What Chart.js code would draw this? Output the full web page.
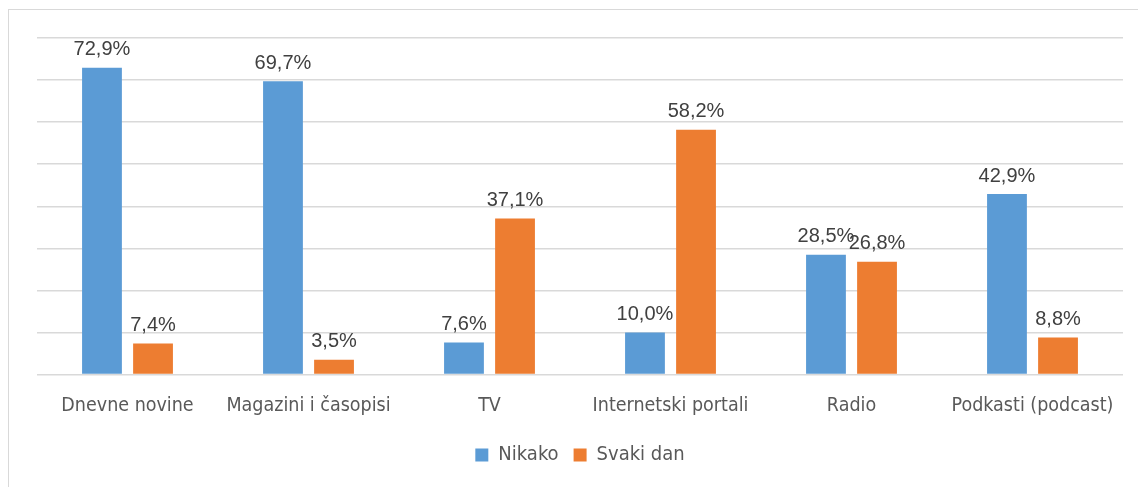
<!DOCTYPE html>
<html>
<head>
<meta charset="utf-8">
<script src="https://cdn.jsdelivr.net/npm/chart.js@4"></script>
<style>
  html, body { margin: 0; padding: 0; background: #fff; }
  #wrap { position: relative; width: 1138px; height: 487px; overflow: hidden; }
  #frame { position: absolute; left: 8px; top: 9px; width: 1200px; height: 600px; border: 1px solid #d9d9d9; }
  canvas { position: absolute; left: 0; top: 0; }
</style>
</head>
<body>
<div id="wrap">
  <div id="frame"></div>
  <canvas id="chart" width="1138" height="487"></canvas>
</div>
<script>
const categories = ['Dnevne novine', 'Magazini i časopisi', 'TV', 'Internetski portali', 'Radio', 'Podkasti (podcast)'];
const nikako = [72.9, 69.7, 7.6, 10.0, 28.5, 42.9];
const svakiDan = [7.4, 3.5, 37.1, 58.2, 26.8, 8.8];
const seriesNames = ['Nikako', 'Svaki dan'];

const narrow = '"Liberation Sans Narrow", "DejaVu Sans Condensed", sans-serif';

// value labels above bars
const valueLabels = {
    id: 'valueLabels',
    afterDatasetsDraw(chart) {
        const ctx = chart.ctx;
        ctx.save();
        ctx.font = '20px "Liberation Sans", Arial, sans-serif';
        ctx.fillStyle = '#404040';
        ctx.textAlign = 'center';
        ctx.textBaseline = 'bottom';
        chart.data.datasets.forEach((ds, i) => {
            chart.getDatasetMeta(i).data.forEach((bar, j) => {
                const txt = ds.data[j].toFixed(1).replace('.', ',') + '%';
                ctx.fillText(txt, bar.x, bar.y - 8);
            });
        });
        ctx.restore();
    }
};

new Chart(document.getElementById('chart'), {
    type: 'bar',
    data: {
        labels: categories,
        datasets: [
            { label: seriesNames[0], data: nikako, backgroundColor: '#5b9bd5', categoryPercentage: 0.564, barPercentage: 0.78 },
            { label: seriesNames[1], data: svakiDan, backgroundColor: '#ed7d31', categoryPercentage: 0.564, barPercentage: 0.78 }
        ]
    },
    options: {
        responsive: false,
        animation: false,
        layout: { padding: { left: 37, right: 15, top: 38, bottom: 12 } },
        plugins: {
            legend: {
                position: 'bottom',
                labels: {
                    boxWidth: 13,
                    boxHeight: 13,
                    padding: 15,
                    color: '#595959',
                    font: { family: narrow, size: 20 }
                }
            },
            tooltip: { enabled: false }
        },
        scales: {
            x: {
                grid: { display: false },
                border: { display: false },
                ticks: { color: '#595959', font: { family: narrow, size: 19.5 }, padding: 12, maxRotation: 0 }
            },
            y: {
                min: 0,
                max: 80,
                ticks: { display: false, stepSize: 10 },
                border: { display: false },
                grid: { color: '#d9d9d9', lineWidth: 1.5, drawTicks: false }
            }
        }
    },
    plugins: [valueLabels]
});
</script>
</body>
</html>
